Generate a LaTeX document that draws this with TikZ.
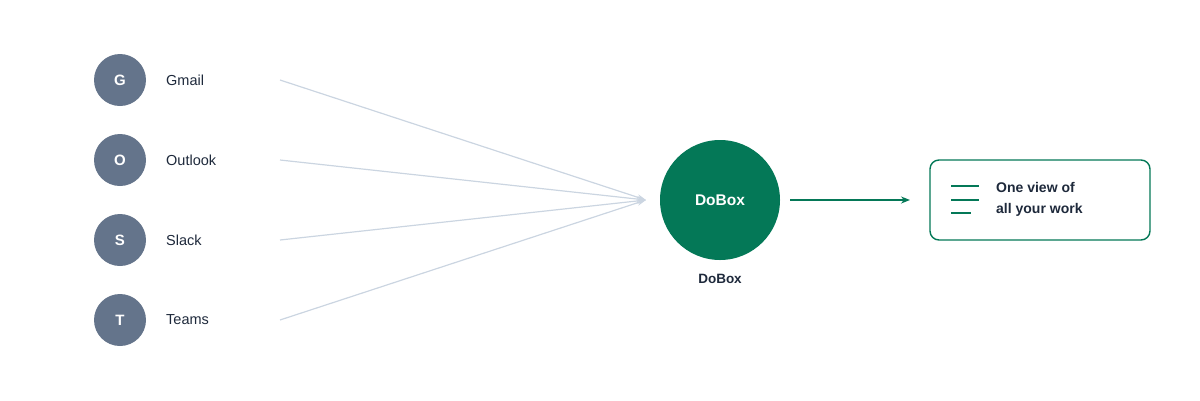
\documentclass[tikz,border=0pt]{standalone}
\usepackage{fontspec}
\setmainfont{Liberation Sans}
\usetikzlibrary{arrows.meta}
\definecolor{slate}{HTML}{64748B}
\definecolor{edgegray}{HTML}{CBD5E1}
\definecolor{dogreen}{HTML}{047857}
\definecolor{ink}{HTML}{1E293B}
\tikzset{
  src/.style={circle, fill=slate, minimum size=52pt, inner sep=0pt, text=white, font=\fontsize{15}{17}\selectfont\bfseries},
  srclabel/.style={anchor=west, inner sep=0pt, text=ink, font=\fontsize{14.5}{16}\selectfont},
  feed/.style={draw=edgegray, line width=1.2pt, -{Stealth[length=9pt,width=6pt]}},
  hub/.style={circle, fill=dogreen, minimum size=120pt, inner sep=0pt, text=white, font=\fontsize{15.5}{18}\selectfont\bfseries},
  outbox/.style={draw=dogreen, line width=1.4pt, rounded corners=9pt, fill=white, minimum width=220pt, minimum height=80pt},
  barline/.style={draw=dogreen, line width=1.6pt},
  outarrow/.style={draw=dogreen, line width=1.4pt, -{Stealth[length=9pt,width=7pt]}},
}
\begin{document}
\begin{tikzpicture}[x=1pt,y=-1pt]
\useasboundingbox (0,0) rectangle (1200,400);
\node[src] (g) at (120,80) {G};
\node[src] (o) at (120,160) {O};
\node[src] (s) at (120,240) {S};
\node[src] (t) at (120,320) {T};
\node[srclabel] (gl) at (166,80) {Gmail};
\node[srclabel] (ol) at (166,160) {Outlook};
\node[srclabel] (sl) at (166,240) {Slack};
\node[srclabel] (tl) at (166,320) {Teams};
\coordinate (ga) at (280,80);
\coordinate (oa) at (280,160);
\coordinate (sa) at (280,240);
\coordinate (ta) at (280,320);
\coordinate (hubin) at (646,200);
\draw[feed] (ga) -- (hubin);
\draw[feed] (oa) -- (hubin);
\draw[feed] (sa) -- (hubin);
\draw[feed] (ta) -- (hubin);
\node[hub] (hub) at (720,200) {DoBox};
\node[text=ink, font=\fontsize{13.5}{15}\selectfont\bfseries] (hublabel) at (720,279) {DoBox};
\node[outbox] (box) at (1040,200) {};
\coordinate (arrstart) at (790,200);
\coordinate (arrend) at (910,200);
\draw[outarrow] (arrstart) -- (arrend);
\coordinate (b1a) at (951,186); \coordinate (b1b) at (979,186);
\coordinate (b2a) at (951,200); \coordinate (b2b) at (979,200);
\coordinate (b3a) at (951,213); \coordinate (b3b) at (971,213);
\draw[barline] (b1a) -- (b1b);
\draw[barline] (b2a) -- (b2b);
\draw[barline] (b3a) -- (b3b);
\node[anchor=west, inner sep=0pt, text=ink, align=left, font=\fontsize{14}{21}\selectfont\bfseries] (boxtext) at (996,199) {One view of\\all your work};
\end{tikzpicture}
\end{document}
